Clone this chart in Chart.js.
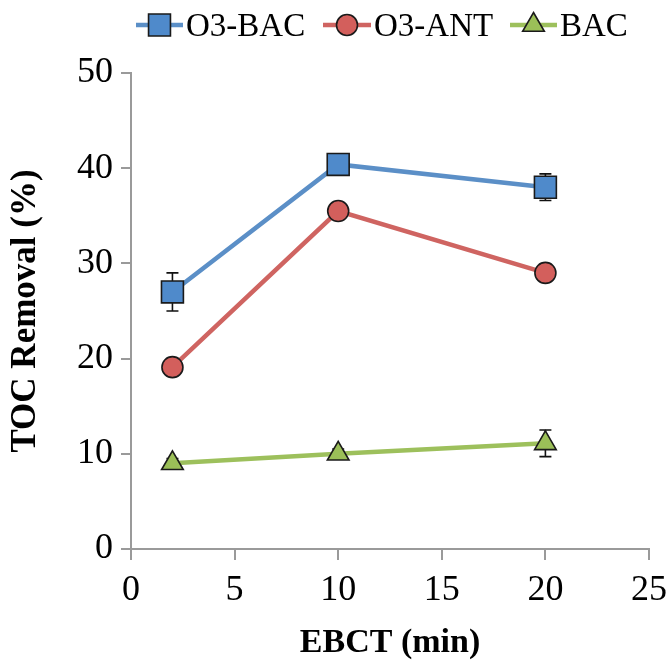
<!DOCTYPE html>
<html>
<head>
<meta charset="utf-8">
<script src="https://cdn.jsdelivr.net/npm/chart.js@4.4.1/dist/chart.umd.min.js"></script>
<style>
  html, body { margin: 0; padding: 0; background: #fff; }
  #wrap { width: 670px; height: 666px; position: relative; }
</style>
</head>
<body>
<div id="wrap"><canvas id="c" width="670" height="666"></canvas></div>
<script>
// ---- data ----
const ebct = [2, 10, 20];
const seriesNames = ['O3-BAC', 'O3-ANT', 'BAC'];
const o3bac = [27, 40.4, 38];
const o3bacErr = [2, 0.5, 1.4];
const o3ant = [19.1, 35.5, 29];
const o3antErr = [0.5, 0.5, 0.5];
const bac = [9.0, 10, 11.1];
const bacErr = [0.5, 0.5, 1.4];
const xTitle = 'EBCT (min)';
const yTitle = 'TOC Removal (%)';

const FONT = "'Liberation Serif', 'Times New Roman', serif";
const AXIS = '#9a9a9a';

const styles = [
  {line: '#5b8fc7', fill: '#4f8acb', point: 'rect', r: 15.5},
  {line: '#cf6461', fill: '#d35f5c', point: 'circle', r: 10.5},
  {line: '#9dc05c', fill: '#9bbf58', point: 'triangle', r: 12.5}
];
const values = [o3bac, o3ant, bac];
const errs = [o3bacErr, o3antErr, bacErr];

const datasets = values.map((v, i) => ({
  label: seriesNames[i],
  data: ebct.map((x, j) => ({x: x, y: v[j]})),
  errors: errs[i],
  borderColor: styles[i].line,
  backgroundColor: styles[i].fill,
  borderWidth: 4.5,
  pointStyle: styles[i].point,
  pointRadius: styles[i].r,
  pointHoverRadius: styles[i].r,
  pointBackgroundColor: styles[i].fill,
  pointBorderColor: '#1a1a1a',
  pointBorderWidth: 1.6,
  tension: 0,
  fill: false
}));

const errorBars = {
  id: 'errorBars',
  beforeDatasetsDraw(chart) {
    const ctx = chart.ctx, xs = chart.scales.x, ys = chart.scales.y;
    ctx.save();
    ctx.strokeStyle = '#111';
    ctx.lineWidth = 1.6;
    chart.data.datasets.forEach(ds => {
      ds.data.forEach((p, j) => {
        const e = ds.errors[j];
        const px = xs.getPixelForValue(p.x);
        const top = ys.getPixelForValue(p.y + e);
        const bot = ys.getPixelForValue(p.y - e);
        ctx.beginPath();
        ctx.moveTo(px, top); ctx.lineTo(px, bot);
        ctx.moveTo(px - 6, top); ctx.lineTo(px + 6, top);
        ctx.moveTo(px - 6, bot); ctx.lineTo(px + 6, bot);
        ctx.stroke();
      });
    });
    ctx.restore();
  }
};

const legendPos = [
  {x1: 136, x2: 183, tx: 186},
  {x1: 323, x2: 371, tx: 374},
  {x1: 510, x2: 557, tx: 560}
];
const customLegend = {
  id: 'customLegend',
  afterDraw(chart) {
    const ctx = chart.ctx;
    const y = 25;
    ctx.save();
    chart.data.datasets.forEach((ds, i) => {
      const L = legendPos[i];
      ctx.strokeStyle = ds.borderColor;
      ctx.lineWidth = 4.5;
      ctx.beginPath();
      ctx.moveTo(L.x1, y); ctx.lineTo(L.x2, y);
      ctx.stroke();
      ctx.fillStyle = ds.pointBackgroundColor;
      ctx.strokeStyle = ds.pointBorderColor;
      ctx.lineWidth = ds.pointBorderWidth;
      Chart.helpers.drawPoint(ctx, {pointStyle: ds.pointStyle, radius: ds.pointRadius, borderWidth: ds.pointBorderWidth, rotation: 0}, (L.x1 + L.x2) / 2, y);
      ctx.fillStyle = '#000';
      ctx.font = '33px ' + FONT;
      ctx.textBaseline = 'middle';
      ctx.textAlign = 'left';
      ctx.fillText(ds.label, L.tx, y + 2);
    });
    ctx.restore();
  }
};

new Chart(document.getElementById('c'), {
  type: 'line',
  data: {datasets: datasets},
  plugins: [errorBars, customLegend],
  options: {
    responsive: false,
    animation: false,
    layout: {padding: {top: 73, right: 0, left: 0, bottom: 0}},
    plugins: {legend: {display: false}, tooltip: {enabled: false}},
    scales: {
      x: {
        type: 'linear', min: 0, max: 25,
        ticks: {stepSize: 5, color: '#000', font: {family: FONT, size: 36}, padding: 9},
        grid: {drawOnChartArea: false, drawTicks: true, tickLength: 11, color: AXIS, lineWidth: 2},
        border: {display: true, color: AXIS, width: 2},
        title: {display: true, text: xTitle, color: '#000', font: {family: FONT, size: 34, weight: 'bold'}, padding: {top: 4, bottom: 2}},
        afterFit(s) { s.height = 666 - 549; s.paddingRight = 21; s.paddingLeft = 0; }
      },
      y: {
        type: 'linear', min: 0, max: 50,
        ticks: {stepSize: 10, color: '#000', font: {family: FONT, size: 36}, padding: 8},
        grid: {drawOnChartArea: false, drawTicks: true, tickLength: 10, color: AXIS, lineWidth: 2},
        border: {display: true, color: AXIS, width: 2},
        title: {display: true, text: yTitle, color: '#000', font: {family: FONT, size: 35, weight: 'bold'}, padding: {top: 5, bottom: 4}},
        afterFit(s) { s.width = 131; s.paddingTop = 0; s.paddingBottom = 0; }
      }
    }
  }
});
</script>
</body>
</html>
